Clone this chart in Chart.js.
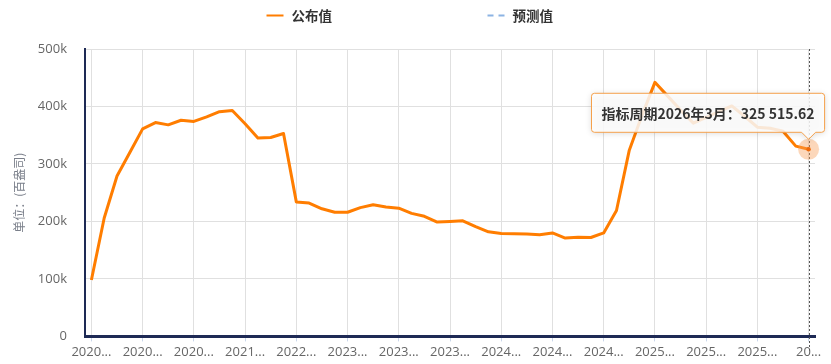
<!DOCTYPE html>
<html>
<head>
<meta charset="utf-8">
<script src="https://cdn.jsdelivr.net/npm/chart.js@4.4.1/dist/chart.umd.min.js"></script>
<style>
html,body{margin:0;padding:0;background:#fff;}
canvas{display:block;}
</style>
</head>
<body>
<canvas id="c" width="831" height="364"></canvas>
<script>
// ---------- data ----------
const categories = [
  '2020年1月','2020年2月','2020年3月','2020年4月','2020年5月','2020年6月',
  '2020年7月','2020年8月','2020年9月','2020年10月','2020年11月','2020年12月',
  '2021年1月','2021年6月','2021年12月','2022年6月','2022年11月','2022年12月',
  '2023年1月','2023年2月','2023年3月','2023年4月','2023年5月','2023年6月',
  '2023年7月','2023年8月','2023年9月','2023年10月','2023年11月','2023年12月',
  '2024年1月','2024年2月','2024年3月','2024年4月','2024年5月','2024年6月',
  '2024年7月','2024年8月','2024年9月','2024年10月','2024年11月','2024年12月',
  '2025年1月','2025年2月','2025年3月','2025年4月','2025年5月','2025年6月',
  '2025年7月','2025年8月','2025年9月','2025年10月','2025年11月','2025年12月',
  '2026年1月','2026年2月','2026年3月'
];
const publishedValues = [
  98000, 206000, 279000, 320000, 361000, 372000,
  368000, 376000, 374000, 382000, 391000, 393000,
  370000, 345000, 346000, 353000, 234000, 232000,
  222000, 216000, 216000, 224000, 229000, 225000,
  223000, 214000, 209000, 199000, 200000, 201000,
  191000, 182000, 179000, 178500, 178000, 177000,
  180000, 171000, 172500, 172000, 180000, 219000,
  324000, 385000, 442000, 418000, 394000, 371000,
  381000, 391000, 401000, 383000, 364000, 362000,
  357000, 331000, 325515.62
];
const forecastValues = [];
const seriesNames = ['公布值', '预测值'];
const yTickValues = [0, 100000, 200000, 300000, 400000, 500000];
const yAxisTitle = '单位：(百盎司)';
const tooltipPrefix = '指标周期';
const highlightIndex = publishedValues.length - 1;

// ---------- styles ----------
const ORANGE = '#ff7d00';
const FORECAST = '#8cb3e3';
const AXIS = '#1e2a55';
const GRID = '#e0e0e0';
const FONT = "'Open Sans','Noto Sans CJK SC',sans-serif";
const CJK = "'Noto Sans CJK SC','Open Sans',sans-serif";

function fmtNumber(v) {
  const parts = v.toFixed(2).split('.');
  parts[0] = parts[0].replace(/\B(?=(\d{3})+(?!\d))/g, ' ');
  return parts.join('.');
}

const decor = {
  id: 'decor',
  beforeDatasetsDraw(chart) {
    const {ctx, chartArea} = chart;
    const pt = chart.getDatasetMeta(0).data[highlightIndex];
    ctx.save();
    ctx.strokeStyle = '#555';
    ctx.lineWidth = 1;
    ctx.setLineDash([2, 2]);
    const x = Math.round(pt.x) + 0.5;
    ctx.beginPath();
    ctx.moveTo(x, chartArea.top);
    ctx.lineTo(x, chartArea.bottom + 14);
    ctx.stroke();
    ctx.restore();
  },
  afterDatasetsDraw(chart) {
    const {ctx} = chart;
    const pt = chart.getDatasetMeta(0).data[highlightIndex];
    ctx.save();
    ctx.fillStyle = 'rgba(248,160,90,0.42)';
    ctx.beginPath(); ctx.arc(pt.x, pt.y, 10.5, 0, Math.PI * 2); ctx.fill();
    ctx.fillStyle = '#ee6a0c';
    ctx.beginPath(); ctx.arc(pt.x, pt.y, 2.2, 0, Math.PI * 2); ctx.fill();

    const text = tooltipPrefix + categories[highlightIndex] + '：' + fmtNumber(publishedValues[highlightIndex]);
    ctx.font = "bold 14px " + CJK;
    const tw = ctx.measureText(text).width;
    const padX = 10, h = 39, r = 3, cs = 7;
    const right = pt.x + 16, left = right - tw - padX * 2;
    const bottom = pt.y - 17, top = bottom - h;
    const tipX = pt.x;
    ctx.beginPath();
    ctx.moveTo(left + r, top);
    ctx.lineTo(right - r, top);
    ctx.quadraticCurveTo(right, top, right, top + r);
    ctx.lineTo(right, bottom - r);
    ctx.quadraticCurveTo(right, bottom, right - r, bottom);
    ctx.lineTo(tipX + cs, bottom);
    ctx.lineTo(tipX, bottom + cs);
    ctx.lineTo(tipX - cs, bottom);
    ctx.lineTo(left + r, bottom);
    ctx.quadraticCurveTo(left, bottom, left, bottom - r);
    ctx.lineTo(left, top + r);
    ctx.quadraticCurveTo(left, top, left + r, top);
    ctx.closePath();
    ctx.shadowColor = 'rgba(0,0,0,0.18)';
    ctx.shadowBlur = 6;
    ctx.shadowOffsetY = 1;
    ctx.fillStyle = 'rgba(255,255,255,0.84)';
    ctx.fill();
    ctx.shadowColor = 'transparent';
    ctx.strokeStyle = '#f5a04a';
    ctx.lineWidth = 1;
    ctx.stroke();
    ctx.fillStyle = '#333';
    ctx.textBaseline = 'middle';
    ctx.textAlign = 'left';
    ctx.fillText(text, left + padX, top + h / 2 + 0.5);
    ctx.restore();
  },
  afterDraw(chart) {
    const {ctx} = chart;
    const cx = chart.width / 2;
    const y = 15.5;
    ctx.save();
    ctx.font = "bold 13.5px " + CJK;
    ctx.textBaseline = 'middle';
    ctx.fillStyle = '#333';
    ctx.strokeStyle = ORANGE; ctx.lineWidth = 2;
    ctx.beginPath(); ctx.moveTo(cx - 149, y); ctx.lineTo(cx - 132, y); ctx.stroke();
    ctx.fillText(seriesNames[0], cx - 124, y);
    ctx.strokeStyle = FORECAST; ctx.setLineDash([6, 5]);
    ctx.beginPath(); ctx.moveTo(cx + 72, y); ctx.lineTo(cx + 91, y); ctx.stroke();
    ctx.setLineDash([]);
    ctx.fillText(seriesNames[1], cx + 97, y);
    ctx.restore();
  }
};

new Chart(document.getElementById('c'), {
  type: 'line',
  data: {
    labels: categories,
    datasets: [
      {
        label: seriesNames[0],
        data: publishedValues,
        borderColor: ORANGE,
        backgroundColor: ORANGE,
        borderWidth: 3,
        pointRadius: 0,
        tension: 0,
        borderJoinStyle: 'round'
      },
      {
        label: seriesNames[1],
        data: forecastValues,
        borderColor: FORECAST,
        borderDash: [6, 5],
        borderWidth: 2,
        pointRadius: 0
      }
    ]
  },
  options: {
    responsive: false,
    animation: false,
    devicePixelRatio: 1,
    layout: { padding: { top: 49, right: 16, bottom: 1, left: 0 } },
    plugins: {
      legend: { display: false },
      tooltip: { enabled: false }
    },
    scales: {
      x: {
        type: 'category',
        offset: true,
        grid: {
          color: GRID,
          offset: false,
          drawTicks: true,
          tickLength: 5,
          tickColor: '#c9d6ea'
        },
        border: { display: true, color: AXIS, width: 3 },
        ticks: {
          autoSkip: false,
          maxRotation: 0,
          minRotation: 0,
          padding: 3,
          color: '#666',
          font: { family: FONT, size: 13 },
          callback: function (value, index) {
            if (index % 4 !== 0) return null;
            const lab = this.getLabelForValue(value);
            if (index === categories.length - 1) return lab.slice(0, 2) + '...';
            return lab.slice(0, 4) + '...';
          }
        }
      },
      y: {
        min: yTickValues[0],
        max: yTickValues[yTickValues.length - 1],
        afterBuildTicks: (scale) => { scale.ticks = yTickValues.map(v => ({ value: v })); },
        afterFit: (scale) => { scale.width = 85; },
        grid: { color: GRID, drawTicks: false },
        border: { display: true, color: AXIS, width: 2 },
        title: {
          display: true,
          text: yAxisTitle,
          color: '#7a7f8a',
          font: { family: CJK, size: 12 },
          padding: { top: 12, bottom: 0 }
        },
        ticks: {
          padding: 18,
          color: '#666',
          font: { family: FONT, size: 13 },
          callback: (v) => v === 0 ? '0' : (v / 1000) + 'k'
        }
      }
    }
  },
  plugins: [decor]
});
</script>
</body>
</html>
